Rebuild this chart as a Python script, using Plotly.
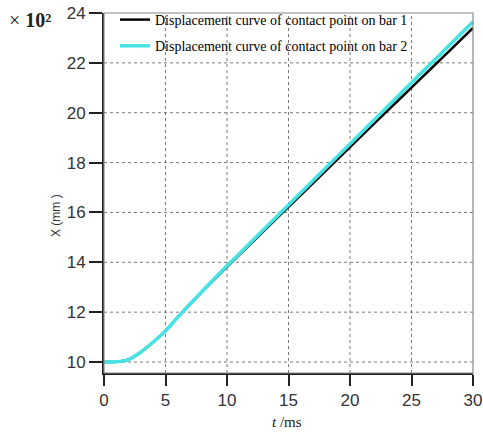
import plotly.graph_objects as go

t = [0, 1, 2, 3, 4, 5, 6, 7, 8, 9, 10, 12, 14, 16, 18, 20, 22, 24, 26, 28, 30]
bar1 = [10.0, 10.01, 10.1, 10.4, 10.8, 11.25, 11.8, 12.32, 12.83, 13.33, 13.82,
        14.78, 15.74, 16.7, 17.66, 18.62, 19.58, 20.53, 21.49, 22.44, 23.4]
bar2 = [10.0, 10.01, 10.1, 10.4, 10.8, 11.25, 11.8, 12.33, 12.85, 13.36, 13.86,
        14.83, 15.81, 16.79, 17.77, 18.75, 19.73, 20.71, 21.69, 22.67, 23.65]
x_ticks = [0, 5, 10, 15, 20, 25, 30]
y_ticks = [10, 12, 14, 16, 18, 20, 22, 24]
names = ["Displacement curve of contact point on bar 1",
         "Displacement curve of contact point on bar 2"]

X_RANGE = [0, 30]
Y_RANGE = [9.56, 24]

fig = go.Figure()
fig.add_trace(go.Scatter(x=t, y=bar1, mode="lines", name=names[0], legendgroup="a",
                         line=dict(color="black", width=2.5, shape="spline")))
fig.add_trace(go.Scatter(x=t, y=bar2, mode="lines", name=names[1], legendgroup="b",
                         line=dict(color="#45E3E3", width=3.5, shape="spline")))

W, H = 483, 432
L, R, T, B = 104, 10, 13, 59
pw, ph = W - L - R, H - T - B


def px_x(sx):
    return (sx - L) / pw


def px_y(sy):
    return (H - B - sy) / ph


grid = dict(color="#7a7a7a", width=1, dash="dot")
shapes = []
for xv in x_ticks[1:-1]:
    shapes.append(dict(type="line", xref="x", yref="y", x0=xv, x1=xv,
                       y0=Y_RANGE[0], y1=Y_RANGE[1], line=grid, layer="below"))
for yv in y_ticks[:-1]:
    shapes.append(dict(type="line", xref="x", yref="y", x0=X_RANGE[0], x1=X_RANGE[1],
                       y0=yv, y1=yv, line=grid, layer="below"))
# white legend box hiding the grid
shapes.append(dict(type="rect", xref="paper", yref="paper",
                   x0=0, x1=px_x(403), y0=px_y(93), y1=1,
                   fillcolor="white", line=dict(width=0), layer="below"))
# thin frame
shapes.append(dict(type="rect", xref="paper", yref="paper", x0=0, x1=1, y0=0, y1=1,
                   line=dict(color="#888", width=1.2), layer="above"))

fig.update_layout(
    width=W, height=H,
    margin=dict(l=L, r=R, t=T, b=B, autoexpand=False),
    paper_bgcolor="white", plot_bgcolor="white",
    showlegend=True,
    legend=dict(x=px_x(115), y=px_y(4), xanchor="left", yanchor="top",
                bgcolor="rgba(0,0,0,0)", borderwidth=0, tracegroupgap=5,
                font=dict(family="Liberation Serif", size=14, color="black")),
    xaxis=dict(range=X_RANGE, tickvals=x_ticks, showgrid=False,
               showline=True, linecolor="#222", linewidth=2,
               ticks="outside", ticklen=11, tickwidth=2, tickcolor="#222",
               tickfont=dict(family="Liberation Sans", size=17, color="#333"),
               zeroline=False),
    yaxis=dict(range=Y_RANGE, tickvals=y_ticks, showgrid=False,
               showline=True, linecolor="#222", linewidth=2,
               ticks="outside", ticklen=13, tickwidth=2, tickcolor="#222",
               tickfont=dict(family="Liberation Sans", size=17, color="#333"),
               zeroline=False),
    shapes=shapes,
    annotations=[
        dict(text="× <b>10²</b>", xref="paper", yref="paper",
             x=px_x(7), y=px_y(20), xanchor="left", yanchor="middle",
             showarrow=False, font=dict(family="Liberation Serif", size=20, color="#222")),
        dict(text="X (mm )", xref="paper", yref="paper", textangle=-90,
             x=px_x(56), y=px_y(215), xanchor="center", yanchor="middle",
             showarrow=False, font=dict(family="Liberation Sans", size=12, color="#333")),
        dict(text="<i>t</i> /ms", xref="paper", yref="paper",
             x=px_x(287), y=px_y(422), xanchor="center", yanchor="middle",
             showarrow=False, font=dict(family="Liberation Serif", size=15, color="#222")),
    ],
)

# remove the default 8px page margin so the figure sits at the window's corner
fig.write_html("out.html", config={"displayModeBar": False},
               post_script="document.body.style.margin='0';")
